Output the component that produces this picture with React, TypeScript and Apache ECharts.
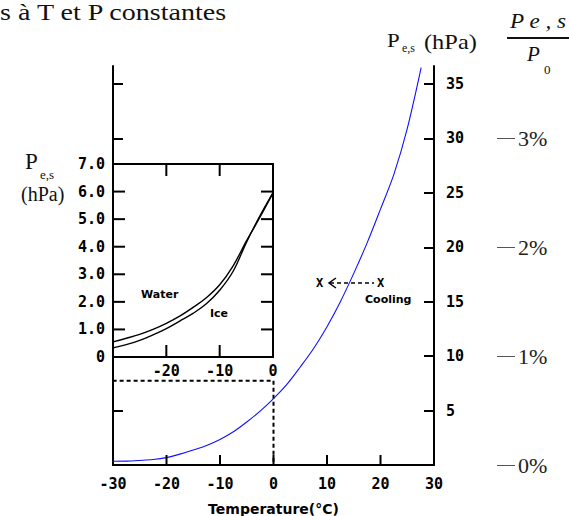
import React, { useEffect, useRef } from "react";
import * as echarts from "echarts";

// Main chart: saturation vapour pressure over water (hPa) vs temperature (°C)
const T_MAIN = [-30, -27.5, -25, -22.5, -20, -17.5, -15, -12.5, -10, -7.5, -5, -2.5, 0, 2.5, 5, 7.5, 10, 12.5, 15, 17.5, 20, 22.5, 25, 27.6];
const P_MAIN = [0.35, 0.36, 0.42, 0.5, 0.68, 1.0, 1.38, 1.8, 2.35, 3.05, 3.95, 4.95, 6.1, 7.4, 9.0, 10.7, 12.7, 15.0, 17.6, 20.4, 23.5, 26.7, 30.9, 36.5];

// Inset: water vs ice at sub-zero temperatures
const T_INSET = [-30, -27.5, -25, -22.5, -20, -17.5, -15, -12.5, -10, -7.5, -5, -2.5, 0];
const P_WATER = [0.55, 0.68, 0.82, 1.0, 1.22, 1.48, 1.8, 2.15, 2.62, 3.3, 4.2, 5.05, 5.95];
const P_ICE = [0.33, 0.45, 0.6, 0.8, 1.03, 1.3, 1.58, 1.93, 2.42, 3.1, 4.15, 5.1, 5.95];

// Dashed zoom box (region shown in the inset)
const BOX_T = [-30, 0];
const BOX_P = 7.75;

// Tick values
const MAIN_X_LABELS = [-30, -20, -10, 0, 10, 20, 30];
const MAIN_X_TICKS = [-20, -10, 0, 10, 20];
const MAIN_Y_VALUES = [5, 10, 15, 20, 25, 30, 35];
const MAIN_Y_LEFT_TICKS = [5, 30, 35];
const PCT_VALUES = [0, 10, 20, 30];
const INSET_X_LABELS = [-20, -10, 0];
const INSET_X_TICKS = [-20, -10];
const INSET_Y_LABELS = [0, 1, 2, 3, 4, 5, 6, 7];
const INSET_Y_TICKS = [1, 2, 3, 4, 5, 6];

const MONO = '"DejaVu Sans Mono", monospace';
const SANS = '"DejaVu Sans", sans-serif';
const SERIF = '"Liberation Serif", serif';

export default function App() {
  const ref = useRef<HTMLDivElement>(null);
  useEffect(() => {
    if (!ref.current) return;
    const chart = echarts.init(ref.current, undefined, { renderer: "svg" });
    const tickLabel = { fontFamily: MONO, fontWeight: "bold" as const, fontSize: 15, color: "#000" };
    const blackLine = { show: true, onZero: false, lineStyle: { color: "#000", width: 2 } };
    const tick = (len: number, values: number[]) => ({
      show: true,
      inside: true,
      length: len,
      customValues: values,
      lineStyle: { color: "#000", width: 2 },
    });
    const seg = (x1: number, y1: number, x2: number, y2: number) => ({
      type: "line",
      z: 90,
      shape: { x1, y1, x2, y2 },
      style: { stroke: "#000", lineWidth: 2 },
    });
    const text = (x: number, y: number, t: string, style: any, extra: any = {}) => ({
      type: "text",
      x,
      y,
      z: 100,
      ...extra,
      style: { text: t, fill: "#111", textVerticalAlign: "middle", ...style },
    });
    const graphics: any[] = [
      text(0, 12, "s à T et P constantes", { fontFamily: SERIF, fontSize: 23 }, { scaleX: 1.22 }),
      // left axis label
      text(25, 161, "P", { fontFamily: SERIF, fontSize: 23 }),
      text(40, 174, "e,s", { fontFamily: SERIF, fontSize: 13 }),
      text(21, 194, "(hPa)", { fontFamily: SERIF, fontSize: 20 }),
      // right axis label
      text(387, 41, "P", { fontFamily: SERIF, fontSize: 19 }, { scaleX: 1.2 }),
      text(402, 48, "e,s", { fontFamily: SERIF, fontSize: 12 }),
      text(424, 42, "(hPa)", { fontFamily: SERIF, fontSize: 20 }, { scaleX: 1.22 }),
      // fraction Pe,s / P0
      text(510, 21, "P e , s", { fontFamily: SERIF, fontSize: 21, fontStyle: "italic" }, { scaleX: 1.1 }),
      { type: "line", z: 100, shape: { x1: 507, y1: 38, x2: 569, y2: 38 }, style: { stroke: "#111", lineWidth: 2 } },
      text(527, 54, "P", { fontFamily: SERIF, fontSize: 21, fontStyle: "italic" }),
      text(544, 69, "0", { fontFamily: SERIF, fontSize: 13 }),
      // inset labels
      text(141, 294, "Water", { fontFamily: SANS, fontSize: 11, fontWeight: "bold", fill: "#000" }),
      text(210, 313, "Ice", { fontFamily: SANS, fontSize: 11, fontWeight: "bold", fill: "#000" }),
      // cooling annotation
      text(316, 283, "X", { fontFamily: MONO, fontSize: 12, fontWeight: "bold", fill: "#000" }),
      text(377, 283, "X", { fontFamily: MONO, fontSize: 12, fontWeight: "bold", fill: "#000" }),
      { type: "line", z: 100, shape: { x1: 330, y1: 283, x2: 374, y2: 283 }, style: { stroke: "#000", lineWidth: 1.5, lineDash: [4, 3] } },
      { type: "polyline", z: 100, shape: { points: [[336, 278], [329, 283], [336, 288]] }, style: { stroke: "#000", lineWidth: 1.5, fill: "none" } },
      text(365, 299, "Cooling", { fontFamily: SANS, fontSize: 11, fontWeight: "bold", fill: "#000" }),
    ];
    chart.setOption({
      animation: false,
      backgroundColor: "#fff",
      grid: [
        { left: 113, top: 66, width: 321, height: 399, show: false, outerBoundsMode: "none", containLabel: false },
        { left: 113, top: 164, width: 160, height: 193, show: false, outerBoundsMode: "none", containLabel: false },
      ],
      xAxis: [
        {
          gridIndex: 0,
          type: "value",
          min: -30,
          max: 30,
          position: "bottom",
          axisLine: blackLine,
          axisTick: { show: false },
          axisLabel: { ...tickLabel, customValues: MAIN_X_LABELS, margin: 11 },
          splitLine: { show: false },
          name: "Temperature(°C)",
          nameLocation: "middle",
          nameGap: 37,
          nameTextStyle: { fontFamily: SANS, fontWeight: "bold", fontSize: 14, color: "#000" },
        },
        {
          gridIndex: 1,
          type: "value",
          min: -30,
          max: 0,
          position: "bottom",
          axisLine: blackLine,
          axisTick: { show: false },
          axisLabel: { ...tickLabel, customValues: INSET_X_LABELS, margin: 6 },
          splitLine: { show: false },
        },
        {
          gridIndex: 1,
          type: "value",
          min: -30,
          max: 0,
          position: "top",
          axisLine: blackLine,
          axisTick: { show: false },
          axisLabel: { show: false },
          splitLine: { show: false },
        },
      ],
      yAxis: [
        {
          gridIndex: 0,
          type: "value",
          min: 0,
          max: 36.65,
          position: "right",
          axisLine: blackLine,
          axisTick: tick(10, MAIN_Y_VALUES),
          axisLabel: { ...tickLabel, customValues: MAIN_Y_VALUES, margin: 12 },
          splitLine: { show: false },
        },
        {
          gridIndex: 0,
          type: "value",
          min: 0,
          max: 36.65,
          position: "left",
          axisLine: blackLine,
          axisTick: tick(10, MAIN_Y_LEFT_TICKS),
          axisLabel: { show: false },
          splitLine: { show: false },
        },
        {
          gridIndex: 0,
          type: "value",
          min: 0,
          max: 36.65,
          position: "right",
          offset: 81,
          axisLine: { show: false, onZero: false },
          axisTick: { show: true, inside: true, length: 18, customValues: PCT_VALUES, lineStyle: { color: "#555", width: 1 } },
          axisLabel: {
            customValues: PCT_VALUES,
            formatter: (v: number) => `${Math.round(v / 10)}%`,
            fontFamily: SERIF,
            fontSize: 22,
            color: "#222",
            margin: 3,
            padding: [8, 0, 0, 0],
          },
          splitLine: { show: false },
        },
        {
          gridIndex: 1,
          type: "value",
          min: 0,
          max: 7,
          position: "left",
          axisLine: blackLine,
          axisTick: { show: false },
          axisLabel: {
            ...tickLabel,
            customValues: INSET_Y_LABELS,
            margin: 8,
            formatter: (v: number) => (v === 0 ? "0" : v.toFixed(1)),
          },
          splitLine: { show: false },
        },
        {
          gridIndex: 1,
          type: "value",
          min: 0,
          max: 7,
          position: "right",
          axisLine: blackLine,
          axisTick: { show: false },
          axisLabel: { show: false },
          splitLine: { show: false },
        },
      ],
      series: [
        {
          type: "line",
          xAxisIndex: 0,
          yAxisIndex: 0,
          data: T_MAIN.map((t, i) => [t, P_MAIN[i]]),
          smooth: 0.3,
          symbol: "none",
          lineStyle: { color: "#1010ff", width: 1.1 },
          z: 3,
        },
        {
          type: "line",
          xAxisIndex: 0,
          yAxisIndex: 0,
          data: [
            [BOX_T[0], 0],
            [BOX_T[0], BOX_P],
            [BOX_T[1], BOX_P],
            [BOX_T[1], 0],
          ],
          symbol: "none",
          lineStyle: { color: "#000", width: 2, type: [4, 3] },
          z: 2,
        },
        {
          type: "line",
          xAxisIndex: 1,
          yAxisIndex: 3,
          data: T_INSET.map((t, i) => [t, P_WATER[i]]),
          smooth: 0.4,
          symbol: "none",
          lineStyle: { color: "#000", width: 1.4 },
          z: 6,
        },
        {
          type: "line",
          xAxisIndex: 1,
          yAxisIndex: 3,
          data: T_INSET.map((t, i) => [t, P_ICE[i]]),
          smooth: 0.4,
          symbol: "none",
          lineStyle: { color: "#000", width: 1.4 },
          z: 6,
        },
      ],
      graphic: graphics,
    });

    // Inward ticks placed through the axes' own scales
    const mainPx = (x: number, y: number) => chart.convertToPixel({ xAxisIndex: 0, yAxisIndex: 0 }, [x, y]) as number[];
    const insetPx = (x: number, y: number) => chart.convertToPixel({ xAxisIndex: 1, yAxisIndex: 3 }, [x, y]) as number[];
    const ticks: any[] = [];
    MAIN_X_TICKS.forEach((v) => {
      const p = mainPx(v, 0);
      ticks.push(seg(p[0], p[1], p[0], p[1] - 10));
    });
    INSET_Y_TICKS.forEach((v) => {
      const l = insetPx(-30, v);
      const r = insetPx(0, v);
      ticks.push(seg(l[0], l[1], l[0] + 12, l[1]));
      ticks.push(seg(r[0], r[1], r[0] - 12, r[1]));
    });
    INSET_X_TICKS.forEach((v) => {
      const b = insetPx(v, 0);
      const t = insetPx(v, 7);
      ticks.push(seg(b[0], b[1], b[0], b[1] - 12));
      ticks.push(seg(t[0], t[1], t[0], t[1] + 12));
    });
    chart.setOption({ graphic: [...graphics, ...ticks] });
    return () => chart.dispose();
  }, []);
  return <div ref={ref} style={{ position: "absolute", left: 0, top: 0, width: 569, height: 516 }} />;
}
